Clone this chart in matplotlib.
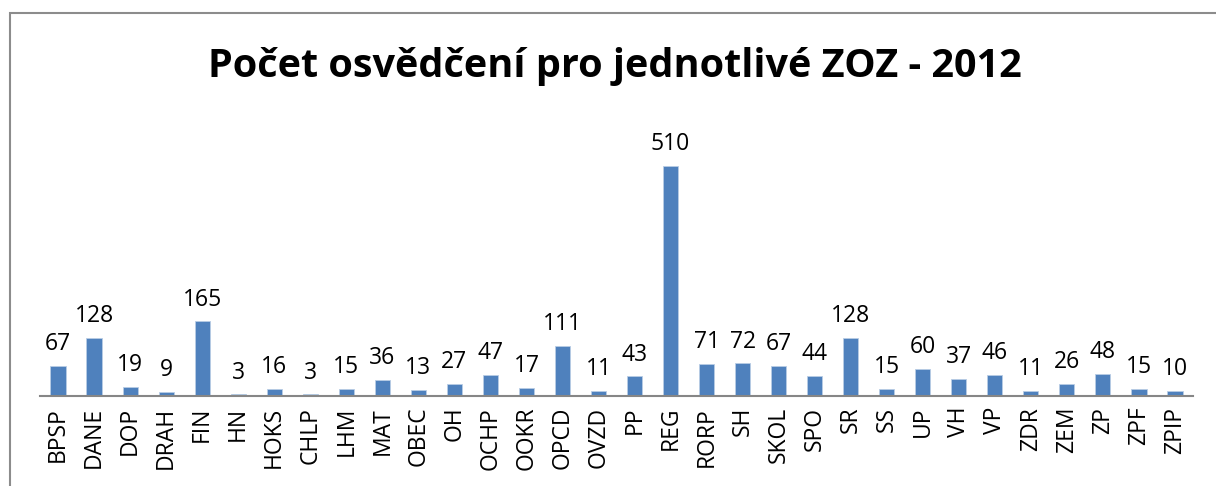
import matplotlib.pyplot as plt
from matplotlib.patches import Rectangle

plt.rcParams['font.family'] = ['Open Sans', 'DejaVu Sans']

categories = ["BPSP", "DANE", "DOP", "DRAH", "FIN", "HN", "HOKS", "CHLP", "LHM", "MAT",
              "OBEC", "OH", "OCHP", "OOKR", "OPCD", "OVZD", "PP", "REG", "RORP", "SH",
              "SKOL", "SPO", "SR", "SS", "UP", "VH", "VP", "ZDR", "ZEM", "ZP", "ZPF", "ZPIP"]
values = [67, 128, 19, 9, 165, 3, 16, 3, 15, 36,
          13, 27, 47, 17, 111, 11, 43, 510, 71, 72,
          67, 44, 128, 15, 60, 37, 46, 11, 26, 48, 15, 10]

W, H = 1216, 486
fig = plt.figure(figsize=(W / 100, H / 100), dpi=100)

# chart frame (cropped: only left and top edges visible)
fig.patches.append(Rectangle((10 / W, -0.1), 1.2, 1 - 13 / H + 0.1,
                             transform=fig.transFigure, fill=False,
                             edgecolor='#8c8c8c', linewidth=1.5))

ax = fig.add_axes([40 / W, 1 - 395.7 / H, 1153 / W, 270 / H])
x = range(len(categories))
bars = ax.bar(x, values, width=0.42, color='#4f81bd', edgecolor='#b9cde5', linewidth=0.6)
ax.set_xlim(-0.5, len(categories) - 0.5)
ax.set_ylim(0, 600)

for xi, v in zip(x, values):
    ax.annotate(str(v), (xi, v), xytext=(0, 7), textcoords='offset points',
                ha='center', va='bottom', fontsize=16.5)

ax.set_xticks(list(x))
ax.set_xticklabels(categories, rotation=90, fontsize=16.5)
ax.tick_params(axis='x', length=0, pad=8)
ax.set_yticks([])
for s in ['left', 'right', 'top']:
    ax.spines[s].set_visible(False)
ax.spines['bottom'].set_color('#868686')
ax.spines['bottom'].set_linewidth(1.5)

fig.text(615 / W, 1 - 66 / H, "Počet osvědčení pro jednotlivé ZOZ - 2012",
         ha='center', va='center', fontsize=28.5, fontweight='bold')

fig.savefig('out.png', dpi=100)
